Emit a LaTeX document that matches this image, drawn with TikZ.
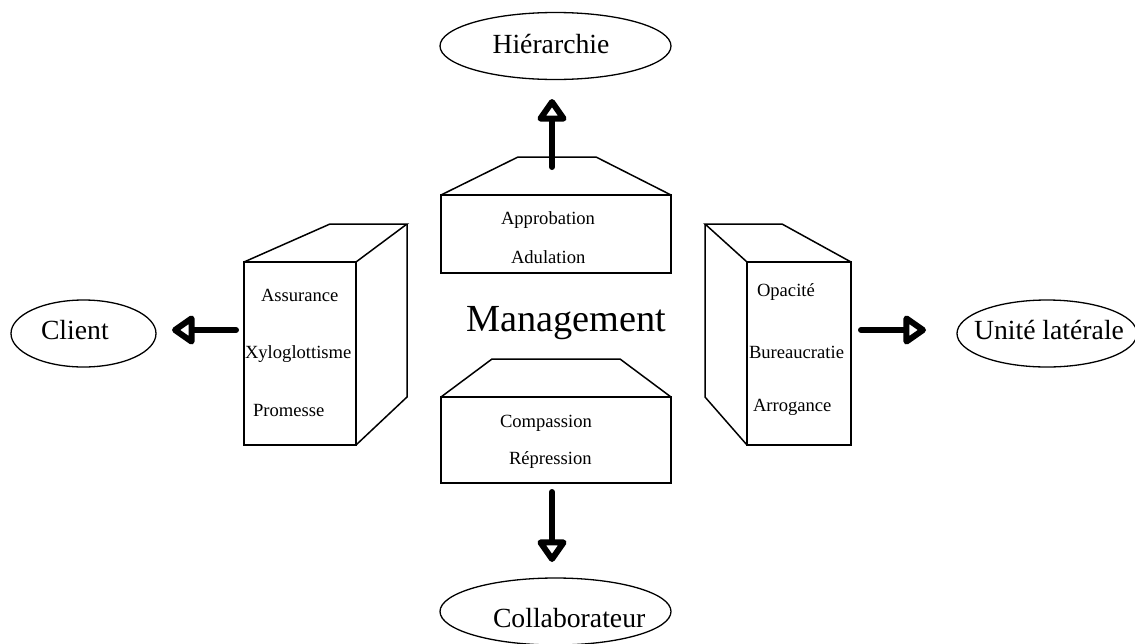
\documentclass[tikz,border=0pt]{standalone}
\usepackage{fontspec}
\setmainfont{Liberation Serif}
\usetikzlibrary{shapes.geometric,arrows.meta}
\tikzset{
  x=1pt,y=-1pt,
  edge/.style={draw=black,line width=1.5pt,line join=miter},
  face/.style={edge,rectangle,anchor=north west,inner sep=0pt,outer sep=0pt},
  oval/.style={draw=black,line width=1.3pt,ellipse,inner sep=0pt,outer sep=0pt},
  small/.style={anchor=base west,inner sep=0pt,outer sep=0pt,font=\fontsize{18.6}{20}\selectfont},
  big/.style={anchor=base west,inner sep=0pt,outer sep=0pt,font=\fontsize{27.7}{30}\selectfont},
  title/.style={anchor=base west,inner sep=0pt,outer sep=0pt,font=\fontsize{38.3}{40}\selectfont},
  flow/.style={line width=6pt,line cap=round,line join=round,
    -{Triangle[open,length=25pt,width=33pt,round,line width=6pt]}},
}
\begin{document}
\begin{tikzpicture}
\useasboundingbox (0,0) rectangle (1135,643);
\clip (0,0) rectangle (1135,643);
\fill[white] (0,0) rectangle (1135,643);

% ovals
\node[oval,minimum width=231pt,minimum height=67pt] (hier) at (555.5,46) {};
\node[oval,minimum width=145pt,minimum height=67pt] (client) at (83.5,333.5) {};
\node[oval,minimum width=180pt,minimum height=67pt] (unite) at (1047,333.5) {};
\node[oval,minimum width=231pt,minimum height=67pt] (collab) at (555.5,611.5) {};

% front faces
\node[face,minimum width=230pt,minimum height=78pt] (topbox) at (441,195) {};
\node[face,minimum width=230pt,minimum height=86pt] (botbox) at (441,397) {};
\node[face,minimum width=112pt,minimum height=183pt] (leftbox) at (244,262) {};
\node[face,minimum width=104pt,minimum height=183pt] (rightbox) at (747,262) {};

% extruded sides
\draw[edge] (topbox.north west) -- (518,157) -- (596,157) -- (topbox.north east);
\draw[edge] (botbox.north west) -- (492,359) -- (620,359) -- (botbox.north east);
\draw[edge] (leftbox.north west) -- (330,224) -- (407,224) -- (leftbox.north east);
\draw[edge] (407,224) -- (407,397) -- (leftbox.south east);
\draw[edge] (rightbox.north east) -- (782,224) -- (705,224) -- (rightbox.north west);
\draw[edge] (705,224) -- (705,397) -- (rightbox.south west);

% labels
\node[big] (thier) at (492.5,53) {Hiérarchie};
\node[big] (tclient) at (41,339) {Client};
\node[big] (tunite) at (974,339) {Unité latérale};
\node[big] (tcollab) at (493,627) {Collaborateur};
\node[title] (tmgmt) at (466,331) {Management};
\node[small] (l1) at (501,224) {Approbation};
\node[small] (l2) at (511,263) {Adulation};
\node[small] (l3) at (500,427) {Compassion};
\node[small] (l4) at (509,464) {Répression};
\node[small] (l5) at (261,301) {Assurance};
\node[small] (l6) at (245,358) {Xyloglottisme};
\node[small] (l7) at (253,416) {Promesse};
\node[small] (l8) at (757,296) {Opacité};
\node[small] (l9) at (749,358) {Bureaucratie};
\node[small] (l10) at (753,411) {Arrogance};

% connector ends
\coordinate (us) at (552,167);
\coordinate (ue) at (552,99);
\coordinate (ds) at (552,492);
\coordinate (de) at (552,562);
\coordinate (ls) at (236,330);
\coordinate (le) at (172,330);
\coordinate (rs) at (861,330);
\coordinate (re) at (926,330);
\draw[flow] (us) -- (ue);
\draw[flow] (ds) -- (de);
\draw[flow] (ls) -- (le);
\draw[flow] (rs) -- (re);
\end{tikzpicture}
\end{document}
